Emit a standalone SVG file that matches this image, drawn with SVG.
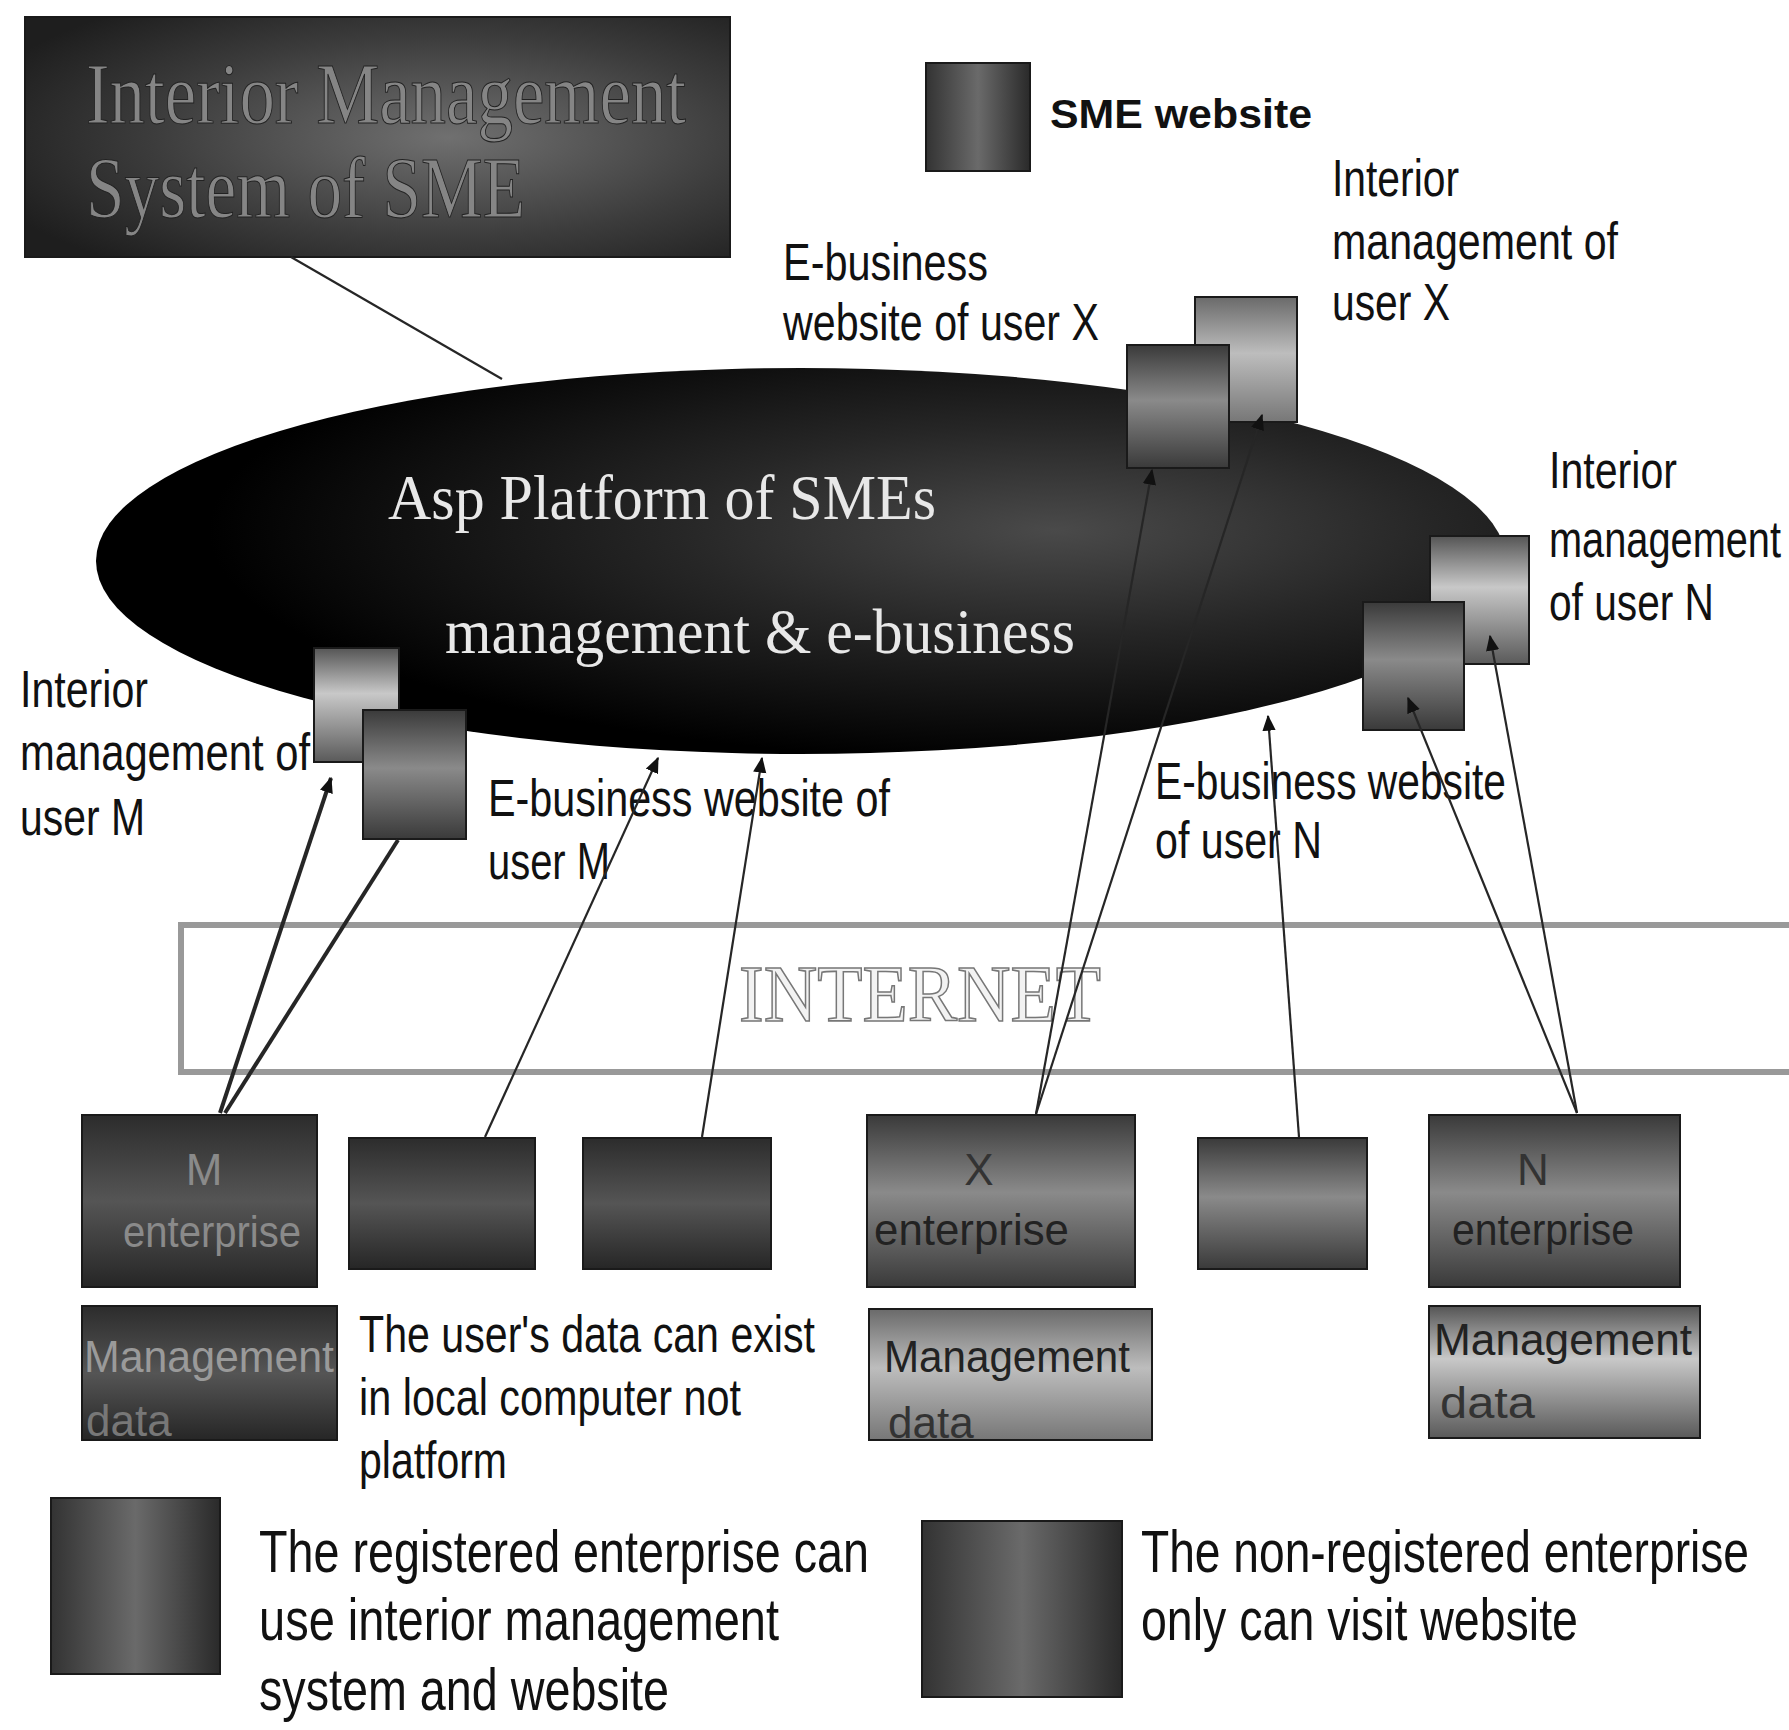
<svg xmlns="http://www.w3.org/2000/svg" width="1789" height="1730" viewBox="0 0 1789 1730">
<style>
.lbl{font-family:"Liberation Sans",Arial,sans-serif;font-size:52px;fill:#111}
.big{font-family:"Liberation Sans",Arial,sans-serif;font-size:60px;fill:#111}
.ser{font-family:"Liberation Serif","Times New Roman",serif}
.box{stroke:#1a1a1a;stroke-width:2}
.con{fill:none;stroke:#262626;stroke-width:2.2}
.thick{stroke-width:4}
.inb{font-family:"Liberation Sans",Arial,sans-serif;font-size:44px}
</style>
<defs>
<marker id="arr" viewBox="0 0 12 10" refX="11" refY="5" markerWidth="16" markerHeight="14" markerUnits="userSpaceOnUse" orient="auto">
<path d="M0,0 L12,5 L0,10 z" fill="#111"/>
</marker>
<radialGradient id="gEll" cx="0.68" cy="0.42" r="0.6">
<stop offset="0" stop-color="#4a4a4a"/>
<stop offset="0.45" stop-color="#262626"/>
<stop offset="1" stop-color="#000"/>
</radialGradient>
<radialGradient id="gTitle" cx="0.6" cy="0.5" r="0.7">
<stop offset="0" stop-color="#707070"/>
<stop offset="0.6" stop-color="#3c3c3c"/>
<stop offset="1" stop-color="#1e1e1e"/>
</radialGradient>
<linearGradient id="gDark" x1="0" y1="0" x2="0" y2="1">
<stop offset="0" stop-color="#2c2c2c"/>
<stop offset="0.5" stop-color="#555"/>
<stop offset="1" stop-color="#262626"/>
</linearGradient>
<linearGradient id="gMid" x1="0" y1="0" x2="0" y2="1">
<stop offset="0" stop-color="#3a3a3a"/>
<stop offset="0.45" stop-color="#8a8a8a"/>
<stop offset="1" stop-color="#3a3a3a"/>
</linearGradient>
<linearGradient id="gLight" x1="0" y1="0" x2="0" y2="1">
<stop offset="0" stop-color="#6a6a6a"/>
<stop offset="0.45" stop-color="#bdbdbd"/>
<stop offset="1" stop-color="#777"/>
</linearGradient>
<linearGradient id="gLightTop" x1="0" y1="0" x2="0" y2="1">
<stop offset="0" stop-color="#555"/>
<stop offset="0.4" stop-color="#c8c8c8"/>
<stop offset="1" stop-color="#5a5a5a"/>
</linearGradient>
<linearGradient id="gSide" x1="0" y1="0" x2="1" y2="0">
<stop offset="0" stop-color="#333"/>
<stop offset="0.5" stop-color="#6a6a6a"/>
<stop offset="1" stop-color="#2a2a2a"/>
</linearGradient>
<clipPath id="cMD1"><rect x="82" y="1306" width="255" height="134"/></clipPath>
<clipPath id="cMD2"><rect x="869" y="1309" width="283" height="131"/></clipPath>
</defs>

<rect width="1789" height="1730" fill="#fff"/>

<g id="platform">
<ellipse cx="801" cy="561" rx="705" ry="193" fill="url(#gEll)"/>
<text class="ser" x="388" y="519" font-size="64" fill="#e8e8e8" textLength="548" lengthAdjust="spacingAndGlyphs">Asp Platform of  SMEs</text>
<text class="ser" x="445" y="653" font-size="64" fill="#e8e8e8" textLength="630" lengthAdjust="spacingAndGlyphs">management  &amp; e-business</text>
</g>

<g id="title-box">
<rect x="25" y="17" width="705" height="240" fill="url(#gTitle)" class="box"/>
<text class="ser" x="86" y="123" font-size="86" fill="#858585" stroke="#222" stroke-width="1" textLength="600" lengthAdjust="spacingAndGlyphs">Interior Management</text>
<text class="ser" x="86" y="217" font-size="86" fill="#858585" stroke="#222" stroke-width="1" textLength="439" lengthAdjust="spacingAndGlyphs">System of SME</text>
</g>

<g id="legend-sme-website">
<rect x="926" y="63" width="104" height="108" fill="url(#gSide)" class="box"/>
<text x="1050" y="128" font-family="Liberation Sans,Arial,sans-serif" font-weight="bold" font-size="40" fill="#111" textLength="262" lengthAdjust="spacingAndGlyphs">SME  website</text>
</g>

<g id="label-ebiz-x">
<text class="lbl" x="783" y="280" textLength="205" lengthAdjust="spacingAndGlyphs">E-business</text>
<text class="lbl" x="783" y="340" textLength="316" lengthAdjust="spacingAndGlyphs">website of user X</text>
</g>
<g id="label-int-x">
<text class="lbl" x="1332" y="196" textLength="127" lengthAdjust="spacingAndGlyphs">Interior</text>
<text class="lbl" x="1332" y="259" textLength="286" lengthAdjust="spacingAndGlyphs">management of</text>
<text class="lbl" x="1332" y="320" textLength="118" lengthAdjust="spacingAndGlyphs">user X</text>
</g>
<g id="label-int-n">
<text class="lbl" x="1549" y="488" textLength="128" lengthAdjust="spacingAndGlyphs">Interior</text>
<text class="lbl" x="1549" y="557" textLength="232" lengthAdjust="spacingAndGlyphs">management</text>
<text class="lbl" x="1549" y="620" textLength="165" lengthAdjust="spacingAndGlyphs">of user N</text>
</g>
<g id="label-int-m">
<text class="lbl" x="20" y="707" textLength="128" lengthAdjust="spacingAndGlyphs">Interior</text>
<text class="lbl" x="20" y="770" textLength="290" lengthAdjust="spacingAndGlyphs">management of</text>
<text class="lbl" x="20" y="835" textLength="125" lengthAdjust="spacingAndGlyphs">user M</text>
</g>
<g id="label-ebiz-m">
<text class="lbl" x="488" y="816" textLength="402" lengthAdjust="spacingAndGlyphs">E-business website of</text>
<text class="lbl" x="488" y="879" textLength="122" lengthAdjust="spacingAndGlyphs">user M</text>
</g>
<g id="label-ebiz-n">
<text class="lbl" x="1155" y="799" textLength="351" lengthAdjust="spacingAndGlyphs">E-business website</text>
<text class="lbl" x="1155" y="858" textLength="167" lengthAdjust="spacingAndGlyphs">of user N</text>
</g>

<g id="int-x"><rect x="1195" y="297" width="102" height="125" fill="url(#gLight)" class="box"/></g>
<g id="web-x"><rect x="1127" y="345" width="102" height="123" fill="url(#gMid)" class="box"/></g>
<g id="int-n"><rect x="1430" y="536" width="99" height="128" fill="url(#gLightTop)" class="box"/></g>
<g id="web-n"><rect x="1363" y="602" width="101" height="128" fill="url(#gMid)" class="box"/></g>
<g id="int-m"><rect x="314" y="648" width="85" height="114" fill="url(#gLightTop)" class="box"/></g>
<g id="web-m"><rect x="363" y="710" width="103" height="129" fill="url(#gMid)" class="box"/></g>

<g id="internet">
<rect x="181" y="925" width="1620" height="147" fill="#fff" stroke="#999" stroke-width="6"/>
<text class="ser" x="739" y="1021" font-size="80" fill="#f2f2f2" stroke="#777" stroke-width="1.6" textLength="362" lengthAdjust="spacingAndGlyphs">INTERNET</text>
</g>

<g id="m-enterprise">
<rect x="82" y="1115" width="235" height="172" fill="url(#gDark)" class="box"/>
<text class="inb" x="204" y="1185" fill="#8a8a8a" text-anchor="middle">M</text>
<text class="inb" x="123" y="1247" fill="#8a8a8a" textLength="178" lengthAdjust="spacingAndGlyphs">enterprise</text>
</g>
<g id="visitor-1"><rect x="349" y="1138" width="186" height="131" fill="url(#gDark)" class="box"/></g>
<g id="visitor-2"><rect x="583" y="1138" width="188" height="131" fill="url(#gDark)" class="box"/></g>
<g id="x-enterprise">
<rect x="867" y="1115" width="268" height="172" fill="url(#gMid)" class="box"/>
<text class="inb" x="979" y="1185" fill="#333" text-anchor="middle">X</text>
<text class="inb" x="874" y="1245" fill="#222" textLength="195" lengthAdjust="spacingAndGlyphs">enterprise</text>
</g>
<g id="visitor-3"><rect x="1198" y="1138" width="169" height="131" fill="url(#gMid)" class="box"/></g>
<g id="n-enterprise">
<rect x="1429" y="1115" width="251" height="172" fill="url(#gMid)" class="box"/>
<text class="inb" x="1533" y="1185" fill="#333" text-anchor="middle">N</text>
<text class="inb" x="1452" y="1245" fill="#222" textLength="182" lengthAdjust="spacingAndGlyphs">enterprise</text>
</g>

<g id="m-data">
<rect x="82" y="1306" width="255" height="134" fill="url(#gDark)" class="box"/>
<g clip-path="url(#cMD1)">
<text class="inb" x="84" y="1372" fill="#9a9a9a" textLength="250" lengthAdjust="spacingAndGlyphs">Management</text>
<text class="inb" x="86" y="1436" fill="#777">data</text>
</g>
</g>
<g id="x-data">
<rect x="869" y="1309" width="283" height="131" fill="url(#gLight)" class="box"/>
<g clip-path="url(#cMD2)">
<text class="inb" x="884" y="1372" fill="#222" textLength="246" lengthAdjust="spacingAndGlyphs">Management</text>
<text class="inb" x="888" y="1438" fill="#333">data</text>
</g>
</g>
<g id="n-data">
<rect x="1429" y="1306" width="271" height="132" fill="url(#gLightTop)" class="box"/>
<text class="inb" x="1434" y="1355" fill="#222" textLength="258" lengthAdjust="spacingAndGlyphs">Management</text>
<text class="inb" x="1440" y="1418" fill="#333" textLength="95" lengthAdjust="spacingAndGlyphs">data</text>
</g>

<g id="note-local">
<text class="lbl" x="359" y="1352" textLength="456" lengthAdjust="spacingAndGlyphs">The user's data can exist</text>
<text class="lbl" x="359" y="1415" textLength="382" lengthAdjust="spacingAndGlyphs">in local computer not</text>
<text class="lbl" x="359" y="1478" textLength="148" lengthAdjust="spacingAndGlyphs">platform</text>
</g>

<g id="legend-registered">
<rect x="51" y="1498" width="169" height="176" fill="url(#gSide)" class="box"/>
<text class="big" x="259" y="1572" textLength="610" lengthAdjust="spacingAndGlyphs">The registered enterprise can</text>
<text class="big" x="259" y="1640" textLength="520" lengthAdjust="spacingAndGlyphs">use interior management</text>
<text class="big" x="259" y="1710" textLength="410" lengthAdjust="spacingAndGlyphs">system and website</text>
</g>
<g id="legend-nonregistered">
<rect x="922" y="1521" width="200" height="176" fill="url(#gSide)" class="box"/>
<text class="big" x="1141" y="1572" textLength="608" lengthAdjust="spacingAndGlyphs">The non-registered enterprise</text>
<text class="big" x="1141" y="1640" textLength="437" lengthAdjust="spacingAndGlyphs">only can visit website</text>
</g>

<g id="connectors">
<line class="con" x1="291" y1="257" x2="502" y2="379" stroke-width="3"/>
<line class="con thick" x1="220" y1="1113" x2="331" y2="778" marker-end="url(#arr)"/>
<line class="con thick" x1="225" y1="1113" x2="398" y2="840"/>
<line class="con" x1="485" y1="1137" x2="658" y2="758" marker-end="url(#arr)"/>
<line class="con" x1="702" y1="1137" x2="762" y2="758" marker-end="url(#arr)"/>
<line class="con" x1="1036" y1="1114" x2="1152" y2="470" marker-end="url(#arr)"/>
<line class="con" x1="1036" y1="1114" x2="1262" y2="415" marker-end="url(#arr)"/>
<line class="con" x1="1299" y1="1137" x2="1268" y2="716" marker-end="url(#arr)"/>
<line class="con" x1="1577" y1="1113" x2="1408" y2="698" marker-end="url(#arr)"/>
<line class="con" x1="1577" y1="1113" x2="1490" y2="636" marker-end="url(#arr)"/>
</g>
</svg>
